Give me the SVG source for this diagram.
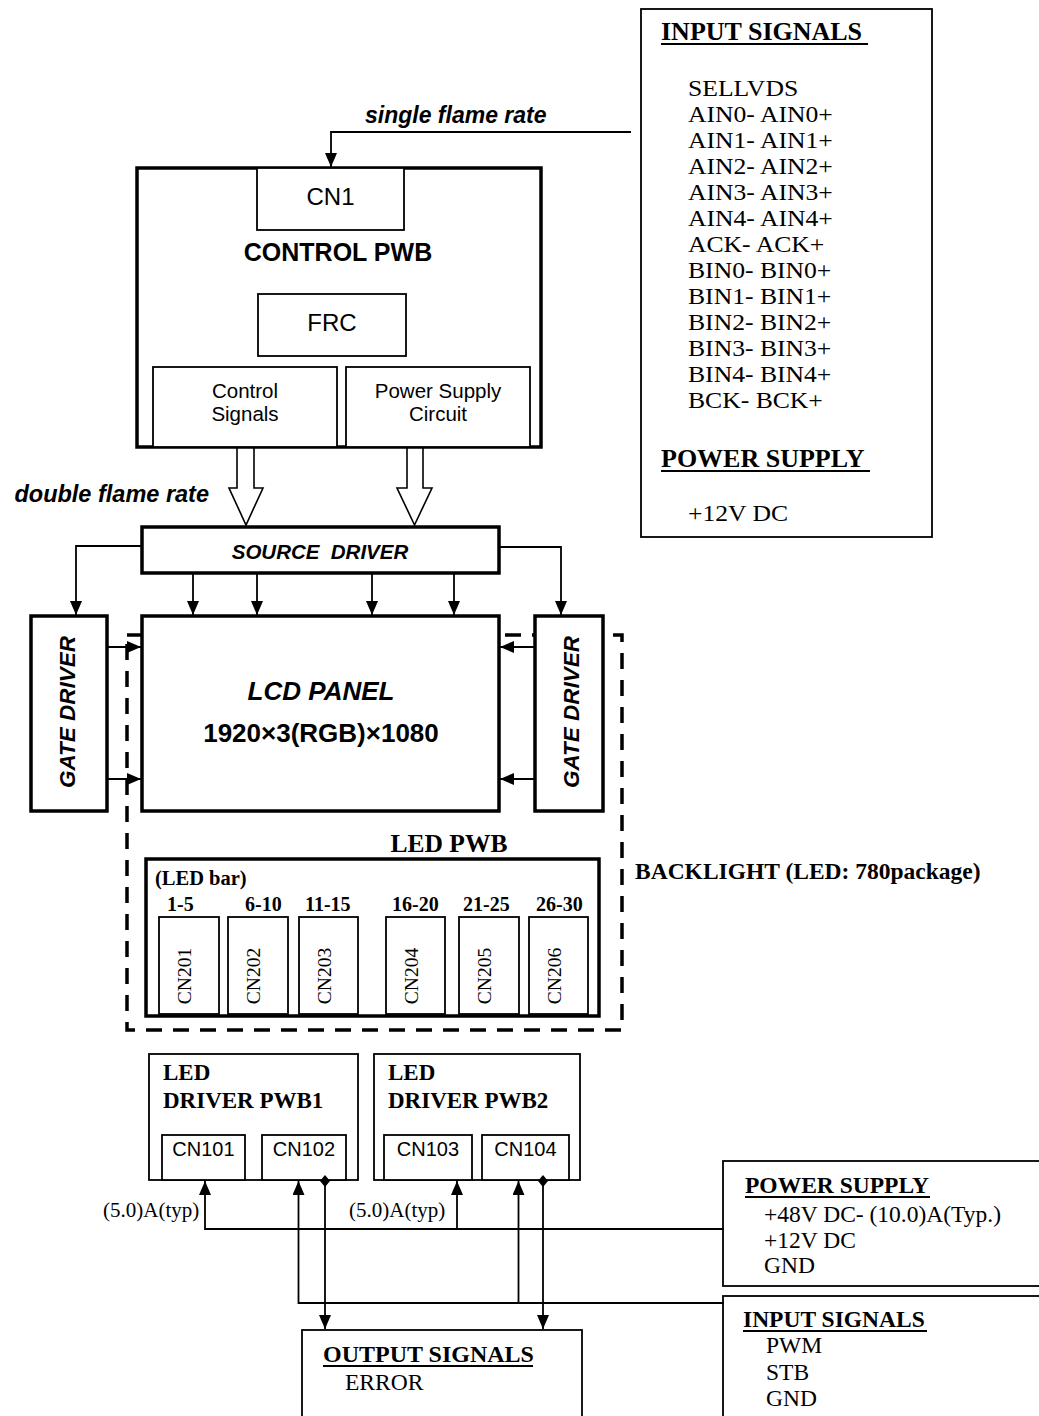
<svg xmlns="http://www.w3.org/2000/svg" width="1039" height="1416" viewBox="0 0 1039 1416">
<style>
.thick{fill:#fff;stroke:#000;stroke-width:3.5}
.thin{fill:#fff;stroke:#000;stroke-width:1.8}
.ln{fill:none;stroke:#000;stroke-width:1.8}
.hollow{fill:#fff;stroke:#000;stroke-width:1.6;stroke-linejoin:miter}
.dash{fill:none;stroke:#000;stroke-width:3.5;stroke-dasharray:16 11}
.ul{stroke:#000;stroke-width:2}
.sans{font-family:"Liberation Sans",Arial,sans-serif;fill:#000}
.serif{font-family:"Liberation Serif","Times New Roman",serif;fill:#000}
.b{font-weight:bold}
.i{font-style:italic}
.mid{text-anchor:middle}
</style>
<defs>
<marker id="ah" markerUnits="userSpaceOnUse" markerWidth="14" markerHeight="12" refX="14" refY="6" orient="auto">
<path d="M0,0 L14,6 L0,12 z" fill="#000"/>
</marker>
<marker id="dm" markerUnits="userSpaceOnUse" markerWidth="12" markerHeight="12" refX="6" refY="6" orient="auto">
<path d="M0,6 L6,1 L12,6 L6,11 z" fill="#000"/>
</marker>
</defs>
<rect width="1039" height="1416" fill="#fff"/>

<!-- backlight dashed outline (behind panel) -->
<g id="backlight">
<rect class="dash" x="127" y="635" width="495" height="395"/>
<text class="serif b" x="635" y="879" font-size="23.5">BACKLIGHT (LED: 780package)</text>
</g>

<g id="input-signals-top">
<rect class="thin" x="641" y="9" width="291" height="528"/>
<text class="serif b" x="661" y="40" font-size="26">INPUT SIGNALS</text>
<line class="ul" x1="661" y1="44" x2="868" y2="44"/>
<g class="serif" font-size="22.5" transform="translate(688,0) scale(1.14,1)">
<text x="0" y="96">SELLVDS</text>
<text x="0" y="122">AIN0- AIN0+</text>
<text x="0" y="148">AIN1- AIN1+</text>
<text x="0" y="174">AIN2- AIN2+</text>
<text x="0" y="200">AIN3- AIN3+</text>
<text x="0" y="226">AIN4- AIN4+</text>
<text x="0" y="252">ACK- ACK+</text>
<text x="0" y="278">BIN0- BIN0+</text>
<text x="0" y="304">BIN1- BIN1+</text>
<text x="0" y="330">BIN2- BIN2+</text>
<text x="0" y="356">BIN3- BIN3+</text>
<text x="0" y="382">BIN4- BIN4+</text>
<text x="0" y="408">BCK- BCK+</text>
</g>
<text class="serif b" x="661" y="467" font-size="26">POWER SUPPLY</text>
<line class="ul" x1="661" y1="471" x2="870" y2="471"/>
<text class="serif" x="0" y="521" font-size="22.5" transform="translate(688,0) scale(1.14,1)">+12V DC</text>
</g>

<g id="control-pwb">
<rect class="thick" x="137" y="168" width="404" height="279"/>
<rect class="thin" x="257" y="168" width="147" height="62"/>
<text class="sans mid" x="330.5" y="205" font-size="24">CN1</text>
<text class="sans b mid" x="338" y="261" font-size="25">CONTROL PWB</text>
<rect class="thin" x="258" y="294" width="148" height="62"/>
<text class="sans mid" x="332" y="331" font-size="24">FRC</text>
<rect class="thin" x="153" y="367" width="184" height="80"/>
<text class="sans mid" x="245" y="398" font-size="20.5">Control</text>
<text class="sans mid" x="245" y="421" font-size="20.5">Signals</text>
<rect class="thin" x="346" y="367" width="184" height="80"/>
<text class="sans mid" x="438" y="398" font-size="20.5">Power Supply</text>
<text class="sans mid" x="438" y="421" font-size="20.5">Circuit</text>
</g>

<g id="source-driver">
<rect class="thick" x="142" y="527" width="357" height="46"/>
<text class="sans b i mid" x="320" y="559" font-size="20.5" xml:space="preserve">SOURCE  DRIVER</text>
</g>

<g id="lcd-panel">
<rect class="thick" x="142" y="616" width="357" height="195"/>
<text class="sans b i mid" x="321" y="700" font-size="26">LCD PANEL</text>
<text class="sans b mid" x="321" y="742" font-size="26">1920×3(RGB)×1080</text>
</g>

<g id="gate-driver-left">
<rect class="thick" x="31" y="616" width="76" height="195"/>
<text class="sans b i mid" transform="translate(75,712) rotate(-90)" font-size="22.5">GATE DRIVER</text>
</g>

<g id="gate-driver-right">
<rect class="thick" x="535" y="616" width="68" height="195"/>
<text class="sans b i mid" transform="translate(579,712) rotate(-90)" font-size="22.5">GATE DRIVER</text>
</g>

<g id="led-pwb">
<text class="serif b mid" x="449" y="852" font-size="25.5">LED PWB</text>
<rect class="thick" x="146" y="859" width="453" height="157"/>
<text class="serif b" x="155" y="885" font-size="20.5">(LED bar)</text>
<g class="serif b" font-size="20">
<text x="167" y="911">1-5</text>
<text x="245" y="911">6-10</text>
<text x="305" y="911">11-15</text>
<text x="392" y="911">16-20</text>
<text x="463" y="911">21-25</text>
<text x="536" y="911">26-30</text>
</g>
<g id="cn201"><rect class="thin" x="159" y="917" width="60" height="97"/><text class="serif mid" transform="translate(191,976) rotate(-90)" font-size="19.5">CN201</text></g>
<g id="cn202"><rect class="thin" x="228" y="917" width="60" height="97"/><text class="serif mid" transform="translate(260,976) rotate(-90)" font-size="19.5">CN202</text></g>
<g id="cn203"><rect class="thin" x="299" y="917" width="59" height="97"/><text class="serif mid" transform="translate(331,976) rotate(-90)" font-size="19.5">CN203</text></g>
<g id="cn204"><rect class="thin" x="386" y="917" width="59" height="97"/><text class="serif mid" transform="translate(418,976) rotate(-90)" font-size="19.5">CN204</text></g>
<g id="cn205"><rect class="thin" x="459" y="917" width="60" height="97"/><text class="serif mid" transform="translate(491,976) rotate(-90)" font-size="19.5">CN205</text></g>
<g id="cn206"><rect class="thin" x="529" y="917" width="59" height="97"/><text class="serif mid" transform="translate(561,976) rotate(-90)" font-size="19.5">CN206</text></g>
</g>

<g id="led-driver-pwb1">
<rect class="thin" x="149" y="1054" width="209" height="126"/>
<text class="serif b" x="163" y="1080" font-size="23">LED</text>
<text class="serif b" x="163" y="1108" font-size="23">DRIVER PWB1</text>
<rect class="thin" x="162" y="1135" width="83" height="45"/>
<text class="sans mid" x="203.5" y="1156" font-size="20">CN101</text>
<rect class="thin" x="262" y="1135" width="84" height="45"/>
<text class="sans mid" x="304" y="1156" font-size="20">CN102</text>
</g>

<g id="led-driver-pwb2">
<rect class="thin" x="374" y="1054" width="206" height="126"/>
<text class="serif b" x="388" y="1080" font-size="23">LED</text>
<text class="serif b" x="388" y="1108" font-size="23">DRIVER PWB2</text>
<rect class="thin" x="384" y="1135" width="88" height="45"/>
<text class="sans mid" x="428" y="1156" font-size="20">CN103</text>
<rect class="thin" x="482" y="1135" width="87" height="45"/>
<text class="sans mid" x="525.5" y="1156" font-size="20">CN104</text>
</g>

<g id="power-supply-bottom">
<rect class="thin" x="723" y="1161" width="330" height="125"/>
<text class="serif b" x="745" y="1193" font-size="23.5">POWER SUPPLY</text>
<line class="ul" x1="745" y1="1197" x2="930" y2="1197"/>
<g class="serif" font-size="23.5">
<text x="764" y="1222">+48V DC- (10.0)A(Typ.)</text>
<text x="764" y="1248">+12V DC</text>
<text x="764" y="1273">GND</text>
</g>
</g>

<g id="input-signals-bottom">
<rect class="thin" x="723" y="1296" width="330" height="140"/>
<text class="serif b" x="743" y="1327" font-size="23.5">INPUT SIGNALS</text>
<line class="ul" x1="743" y1="1331" x2="927" y2="1331"/>
<g class="serif" font-size="23.5">
<text x="766" y="1353">PWM</text>
<text x="766" y="1380">STB</text>
<text x="766" y="1406">GND</text>
</g>
</g>

<g id="output-signals">
<rect class="thin" x="302" y="1330" width="280" height="100"/>
<text class="serif b" x="323" y="1362" font-size="24">OUTPUT SIGNALS</text>
<line class="ul" x1="323" y1="1366" x2="533" y2="1366"/>
<text class="serif" x="345" y="1390" font-size="23.5">ERROR</text>
</g>

<g id="connectors">
<polyline class="ln" points="631,132 331,132 331,167" marker-end="url(#ah)"/>
<text class="sans b i" x="365" y="123" font-size="23">single flame rate</text>
<text class="sans b i" x="209" y="502" font-size="23.5" text-anchor="end">double flame rate</text>
<polygon class="hollow" points="237,448 254,448 254,488 263,488 246,525 229,488 237,488"/>
<polygon class="hollow" points="407,448 423,448 423,488 432,488 414.5,525 397,488 407,488"/>
<polyline class="ln" points="142,546 76,546 76,615" marker-end="url(#ah)"/>
<polyline class="ln" points="499,547 561,547 561,615" marker-end="url(#ah)"/>
<line class="ln" x1="193" y1="573" x2="193" y2="615" marker-end="url(#ah)"/>
<line class="ln" x1="257" y1="573" x2="257" y2="615" marker-end="url(#ah)"/>
<line class="ln" x1="372" y1="573" x2="372" y2="615" marker-end="url(#ah)"/>
<line class="ln" x1="454" y1="573" x2="454" y2="615" marker-end="url(#ah)"/>
<line class="ln" x1="108" y1="647" x2="141" y2="647" marker-end="url(#ah)"/>
<line class="ln" x1="108" y1="779" x2="141" y2="779" marker-end="url(#ah)"/>
<line class="ln" x1="534" y1="647" x2="500" y2="647" marker-end="url(#ah)"/>
<line class="ln" x1="534" y1="779" x2="500" y2="779" marker-end="url(#ah)"/>
<polyline class="ln" points="724,1229 205,1229 205,1181" marker-end="url(#ah)"/>
<line class="ln" x1="457" y1="1229" x2="457" y2="1181" marker-end="url(#ah)"/>
<polyline class="ln" points="724,1303 298.5,1303 298.5,1181" marker-end="url(#ah)"/>
<line class="ln" x1="518.5" y1="1303" x2="518.5" y2="1181" marker-end="url(#ah)"/>
<line class="ln" x1="325" y1="1181" x2="325" y2="1329" marker-start="url(#dm)" marker-end="url(#ah)"/>
<line class="ln" x1="543" y1="1181" x2="543" y2="1329" marker-start="url(#dm)" marker-end="url(#ah)"/>
<text class="serif" x="103" y="1217" font-size="21">(5.0)A(typ)</text>
<text class="serif" x="349" y="1217" font-size="21">(5.0)A(typ)</text>
</g>
</svg>
